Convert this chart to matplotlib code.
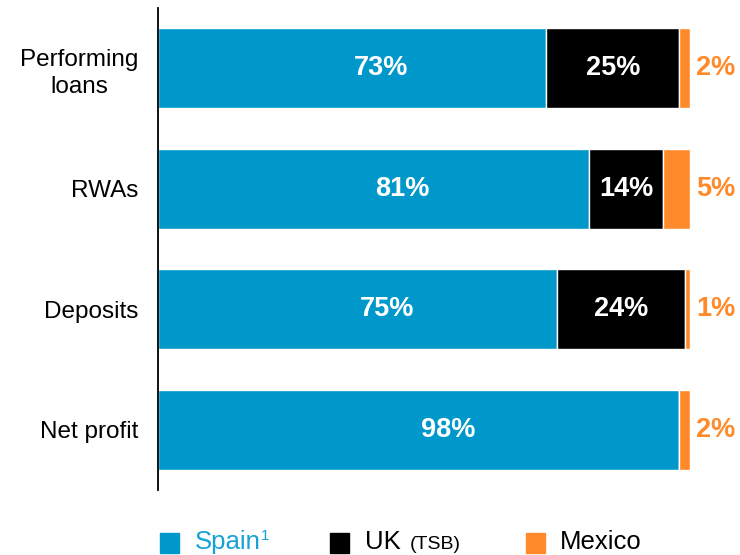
import matplotlib.pyplot as plt
from matplotlib.patches import Rectangle

plt.rcParams['font.family'] = ['Liberation Sans', 'DejaVu Sans']

categories = ['Performing\nloans', 'RWAs', 'Deposits', 'Net profit']
spain = [73, 81, 75, 98]
uk = [25, 14, 24, 0]
mexico = [2, 5, 1, 2]

blue = '#0098CA'
black = '#000000'
orange = '#FF8A2A'

fig = plt.figure(figsize=(7.4, 5.55), dpi=100)
ax = fig.add_axes([158/740, 1-490/555, (690-158)/740, (490-8)/555])

y = range(len(categories))
ax.barh(y, spain, height=0.66, color=blue, edgecolor='white', linewidth=1)
ax.barh(y, uk, left=spain, height=0.66, color=black, edgecolor='white', linewidth=1)
left_mx = [s + u for s, u in zip(spain, uk)]
ax.barh(y, mexico, left=left_mx, height=0.66, color=orange, edgecolor='white', linewidth=1)

for i in y:
    # Spain labels sit a little right of the segment centre in the original
    ax.text(spain[i] / 2 + 5.5, i, f'{spain[i]}%', ha='center', va='center',
            color='white', fontsize=19.5, fontweight='bold')
    if uk[i]:
        ax.text(spain[i] + uk[i] / 2, i, f'{uk[i]}%', ha='center', va='center',
                color='white', fontsize=19.5, fontweight='bold')
    ax.text(left_mx[i] + mexico[i] + 1.2, i, f'{mexico[i]}%', ha='left', va='center',
            color=orange, fontsize=19.5, fontweight='bold', clip_on=False)

ax.set_xlim(0, 100)
ax.set_ylim(3.5, -0.5)
ax.set_yticks(list(y))
ax.set_yticklabels(categories, fontsize=17.5, linespacing=1.3, ha='right',
                   multialignment='center')
ax.tick_params(axis='y', length=0, pad=14)
ax.set_xticks([])
for s in ['top', 'right', 'bottom']:
    ax.spines[s].set_visible(False)
ax.spines['left'].set_linewidth(1.3)

# legend drawn by hand
base = 1 - 549/555
items = [(160, blue), (330, black), (526, orange)]
for x0, c in items:
    fig.patches.append(Rectangle((x0/740, 1 - 553/555), 19/740, 20/555,
                                 transform=fig.transFigure, color=c))
fig.text(195/740, base, 'Spain', color='#17A2D6', fontsize=18.5, va='baseline')
fig.text(261/740, 1 - 540/555, '1', color='#17A2D6', fontsize=11, va='baseline')
fig.text(365/740, base, 'UK', color='black', fontsize=18.5, va='baseline')
fig.text(410/740, base, '(TSB)', color='black', fontsize=14, va='baseline')
fig.text(560/740, base, 'Mexico', color='black', fontsize=18.5, va='baseline')

fig.savefig('out.png', dpi=100)
